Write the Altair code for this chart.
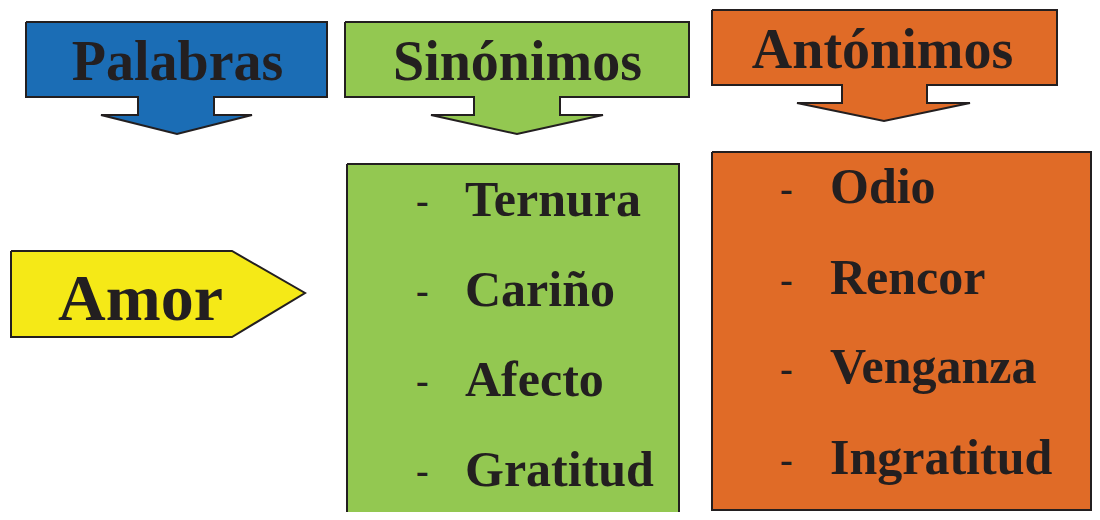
import altair as alt
import pandas as pd

# ---- text content ----
titles = ["Palabras", "Sinónimos", "Antónimos"]
palabra = ["Amor"]
sinonimos = ["Ternura", "Cariño", "Afecto", "Gratitud"]
antonimos = ["Odio", "Rencor", "Venganza", "Ingratitud"]

BLUE = "#1b6db5"
GREEN = "#93c851"
ORANGE = "#e06b27"
YELLOW = "#f5e917"
INK = "#231f20"
FONT = "Liberation Serif"

W, H = 1084, 504
X = alt.Scale(domain=[8, 8 + W], nice=False, zero=False)
Y = alt.Scale(domain=[8, 8 + H], nice=False, zero=False, reverse=True)


def down_arrow(x0, x1, y0, y1, s0, s1, ys, t0, t1, tx, ty):
    return [(x0, y0), (x1, y0), (x1, y1), (s1, y1), (s1, ys), (t1, ys),
            (tx, ty), (t0, ys), (s0, ys), (s0, y1), (x0, y1), (x0, y0)]


def rect(x0, y0, x1, y1):
    return [(x0, y0), (x1, y0), (x1, y1), (x0, y1), (x0, y0)]


shapes = [
    (down_arrow(26, 327, 22, 97, 138, 214, 115, 101, 252, 177, 134), BLUE),
    (down_arrow(345, 689, 22, 97, 474, 560, 115, 431, 603, 517, 134), GREEN),
    (down_arrow(712, 1057, 10, 85, 842, 927, 103, 797, 970, 884, 121), ORANGE),
    ([(11, 251), (232, 251), (305, 293), (232, 337), (11, 337), (11, 251)], YELLOW),
    (rect(347, 164, 679, 545), GREEN),
    (rect(712, 152, 1091, 510), ORANGE),
]

layers = []
for pts, col in shapes:
    df = pd.DataFrame({"i": range(len(pts)), "x": [p[0] for p in pts], "y": [p[1] for p in pts]})
    layers.append(
        alt.Chart(df).mark_line(fill=col, stroke=INK, strokeWidth=2, strokeJoin="miter", clip=False)
        .encode(x=alt.X("x:Q", scale=X, axis=None), y=alt.Y("y:Q", scale=Y, axis=None), order="i:Q")
    )


def text_layer(words, xs, ys, size, align="left"):
    df = pd.DataFrame({"t": words, "x": xs, "y": ys})
    return alt.Chart(df).mark_text(font=FONT, fontWeight="bold", fontSize=size, color=INK,
                                   align=align, baseline="alphabetic", clip=False).encode(
        x=alt.X("x:Q", scale=X, axis=None), y=alt.Y("y:Q", scale=Y, axis=None), text="t:N")


layers.append(text_layer(titles, [177.5, 517.5, 882.5], [80, 80, 68], 56, "center"))
layers.append(text_layer(palabra, [58], [320], 66))

syn_base = [216, 306, 396, 486]
ant_base = [203, 294, 383, 474]
layers.append(text_layer(sinonimos, [465] * 4, syn_base, 50))
layers.append(text_layer(antonimos, [830] * 4, ant_base, 50))

dash_df = pd.DataFrame({"t": ["-"] * 8, "x": [416] * 4 + [780] * 4,
                        "y": [b - 3 for b in syn_base] + [b - 2 for b in ant_base]})
layers.append(
    alt.Chart(dash_df).mark_text(font=FONT, fontWeight="bold", fontSize=38, color=INK,
                                 align="left", baseline="alphabetic")
    .encode(x=alt.X("x:Q", scale=X, axis=None), y=alt.Y("y:Q", scale=Y, axis=None), text="t:N")
)

chart = alt.layer(*layers).properties(
    width=W, height=H, padding=0, autosize=alt.AutoSizeParams(type="none")
).configure_view(stroke=None)

chart.save("out.html", embed_options={"renderer": "svg", "actions": False})
